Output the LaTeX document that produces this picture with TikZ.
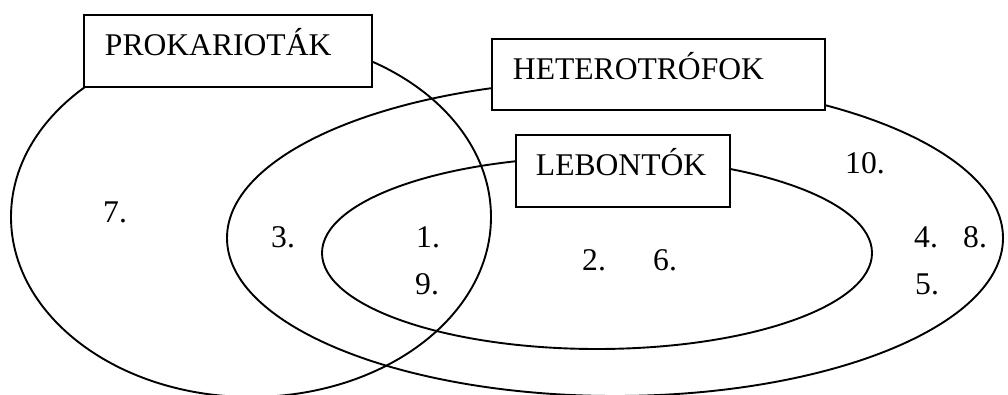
\documentclass[tikz,border=0pt]{standalone}
\usepackage{fontspec}
\setmainfont{Liberation Serif}
\begin{document}
\begin{tikzpicture}[x=1pt,y=1pt,
  lbl/.style={anchor=base west, inner sep=0pt, font=\fontsize{31.6}{36}\selectfont},
  tbox/.style={draw, line width=1.9pt, fill=white, anchor=north west, inner ysep=0pt,
    align=left, font=\fontsize{31.6}{36}\selectfont, text height=41pt, text depth=31pt},
  setline/.style={line width=1.9pt}]
\useasboundingbox (0,0) rectangle (1008,394);
\begin{scope}
  \clip (0,0) rectangle (1008,394);
  \draw[setline] (251,177) ellipse [x radius=240, y radius=180];
  \draw[setline] (615,156) ellipse [x radius=388, y radius=158];
  \draw[setline] (597,141) ellipse [x radius=275, y radius=96];
\end{scope}
\node[tbox, inner xsep=21pt, text width=246pt] (prok) at (83,380) {PROKARIOTÁK};
\node[tbox, inner xsep=21pt, text width=291pt, text depth=30pt] (hetero) at (491,356) {HETEROTRÓFOK};
\node[tbox, inner xsep=20pt, text width=174pt] (lebont) at (515,260) {LEBONTÓK};
\node[lbl] (n7) at (103,172) {7.};
\node[lbl] (n3) at (271,147) {3.};
\node[lbl] (n1) at (416,147) {1.};
\node[lbl] (n9) at (415,100) {9.};
\node[lbl] (n2) at (582,124) {2.};
\node[lbl] (n6) at (653,124) {6.};
\node[lbl] (n10) at (845,221) {10.};
\node[lbl] (n4) at (914,147) {4.};
\node[lbl] (n8) at (963,147) {8.};
\node[lbl] (n5) at (915,100) {5.};
\end{tikzpicture}
\end{document}
